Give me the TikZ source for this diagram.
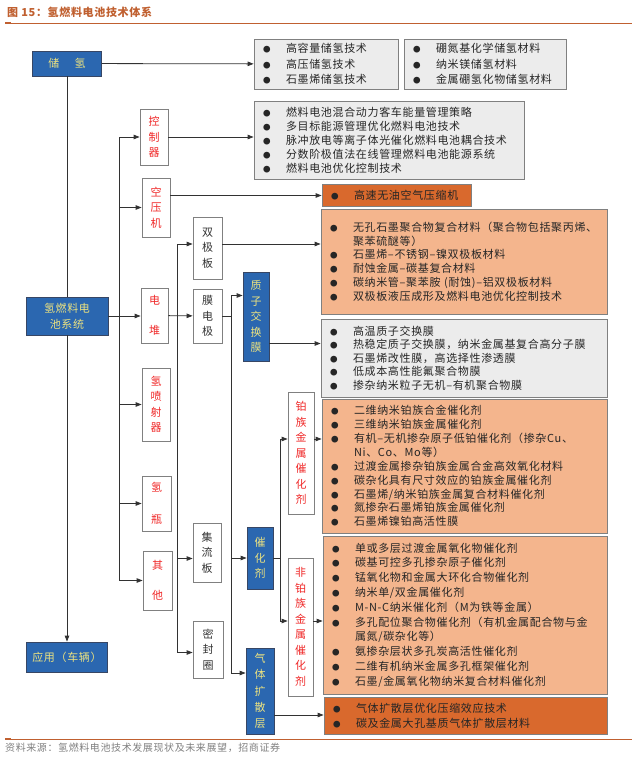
\documentclass[tikz,border=0pt]{standalone}
\usepackage{fontspec}
\setmainfont{Noto Sans CJK SC}[LetterSpace=6]
\usetikzlibrary{arrows.meta,positioning}

\definecolor{hblue}{RGB}{43,103,176}
\definecolor{hblueline}{RGB}{55,70,100}
\definecolor{hyel}{RGB}{236,226,128}
\definecolor{hred}{RGB}{240,40,40}
\definecolor{hdark}{RGB}{217,105,45}
\definecolor{hlight}{RGB}{244,181,141}
\definecolor{hgray}{RGB}{236,236,236}
\definecolor{hline}{RGB}{128,128,128}
\definecolor{hlink}{RGB}{50,50,50}
\definecolor{htitle}{RGB}{192,96,48}

\newcommand\bul{\makebox[23pt][l]{\fontsize{7.5}{7.5}\selectfont ●}}
\newcommand\ind{\hspace*{23pt}}
\newcommand\lst[1]{\fontsize{11}{#1}\selectfont}

\tikzset{
  conn/.style={draw=hlink,line width=0.8pt},
  arr/.style={conn,-{Triangle[length=6pt,width=4.5pt]}},
  wh/.style 2 args={minimum width=#1pt,minimum height=#2pt},
  bluebox/.style={draw=hblueline,fill=hblue,text=hyel,line width=0.8pt,inner sep=0pt,
    align=center,font=\fontsize{11}{15.5}\selectfont},
  redbox/.style={draw=hline,fill=white,text=hred,line width=0.8pt,inner sep=0pt,
    align=center,font=\fontsize{11}{15.5}\selectfont},
  plainbox/.style={redbox,text=black!80},
  graylist/.style={draw=hline,fill=hgray,line width=0.8pt,inner xsep=9pt,inner ysep=0pt,
    align=left,text=black!85},
  darklist/.style={graylist,fill=hdark},
  lightlist/.style={graylist,fill=hlight},
}

\begin{document}
\begin{tikzpicture}[x=1pt,y=-1pt]
\useasboundingbox (0,0) rectangle (637,761);

% title and rules
\node[anchor=west,inner sep=0pt,text=htitle,font=\fontsize{11}{11}\selectfont\bfseries] (title) at (7,12) {图 15：氢燃料电池技术体系};
\draw[htitle,line width=0.8pt] (5,23) -- (632,23);
\draw[htitle,line width=2.4pt] (5,23) -- (11,23);
\draw[htitle,line width=0.8pt] (5,739) -- (632,739);
\draw[htitle,line width=2.4pt] (5,739) -- (11,739);
\node[anchor=west,inner sep=0pt,text=black!50,font=\fontsize{10}{10}\selectfont] (src) at (5,748) {资料来源：氢燃料电池技术发展现状及未来展望，招商证券};

% main column
\node[bluebox,wh={69}{25}] (store) at (67,63.5) {储\hspace{1.4em}氢};
\node[bluebox,wh={82}{38},font=\fontsize{11}{16}\selectfont] (sys) at (67,316) {氢燃料电\\池系统};
\node[bluebox,wh={81}{30}] (app) at (67,657) {应用（车辆）};

% first level
\node[redbox,wh={28}{56}] (ctrl) at (154,137) {控\\制\\器};
\node[redbox,wh={28}{59}] (comp) at (156,207.5) {空\\压\\机};
\node[redbox,wh={27}{55}] (stack) at (154.5,315.5) {电\\[15pt]堆};
\node[redbox,wh={28}{73}] (inj) at (156,404.5) {氢\\喷\\射\\器};
\node[redbox,wh={29}{55}] (tank) at (156.5,503.5) {氢\\[16pt]瓶};
\node[redbox,wh={29}{59}] (other) at (157.5,580.5) {其\\[15pt]他};

% stack parts
\node[plainbox,wh={29}{62}] (bip) at (207.5,248) {双\\极\\板};
\node[plainbox,wh={29}{54}] (mea) at (207.5,316) {膜\\电\\极};
\node[plainbox,wh={28}{59}] (cc) at (207,552.5) {集\\流\\板};
\node[plainbox,wh={30}{57}] (seal) at (208,649.5) {密\\封\\圈};

% electrode parts
\node[bluebox,wh={26}{89}] (pem) at (256,316.5) {质\\子\\交\\换\\膜};
\node[bluebox,wh={26}{62}] (cat) at (260,558) {催\\化\\剂};
\node[bluebox,wh={28}{86},font=\fontsize{11}{16.3}\selectfont] (gdl) at (260,691) {气\\体\\扩\\散\\层};
\node[redbox,wh={26}{122}] (pt) at (301,453) {铂\\族\\金\\属\\催\\化\\剂};
\node[redbox,wh={25}{138}] (npt) at (300.5,627) {非\\铂\\族\\金\\属\\催\\化\\剂};

% lists
\node[graylist,minimum height=50pt,text width=126pt,font=\lst{15.5}] (storea) at (326,64)
  {\bul 高容量储氢技术\\ \bul 高压储氢技术\\ \bul 石墨烯储氢技术};
\node[graylist,minimum height=50pt,text width=144pt,font=\lst{15.5}] (storeb) at (485,64)
  {\bul 硼氮基化学储氢材料\\ \bul 纳米镁储氢材料\\ \bul 金属硼氢化物储氢材料};
\node[graylist,minimum height=78pt,text width=252pt,font=\lst{14}] (ctrllist) at (389,140)
  {\bul 燃料电池混合动力客车能量管理策略\\ \bul 多目标能源管理优化燃料电池技术\\
   \bul 脉冲放电等离子体光催化燃料电池耦合技术\\ \bul 分数阶极值法在线管理燃料电池能源系统\\
   \bul 燃料电池优化控制技术};
\node[darklist,minimum height=22pt,text width=131pt,font=\lst{14}] (complist) at (396.5,195)
  {\bul 高速无油空气压缩机};
\node[lightlist,minimum height=105pt,text width=268pt,font=\lst{13.8}] (biplist) at (464,261.5)
  {\bul 无孔石墨聚合物复合材料（聚合物包括聚丙烯、\\ \ind 聚苯硫醚等）\\
   \bul 石墨烯–不锈钢–镍双极板材料\\ \bul 耐蚀金属–碳基复合材料\\
   \bul 碳纳米管–聚苯胺 (耐蚀)–铝双极板材料\\ \bul 双极板液压成形及燃料电池优化控制技术\\[5pt]};
\node[graylist,minimum height=78pt,text width=268pt,font=\lst{13.5}] (pemlist) at (464,358)
  {\bul 高温质子交换膜\\ \bul 热稳定质子交换膜，纳米金属基复合高分子膜\\
   \bul 石墨烯改性膜，高选择性渗透膜\\ \bul 低成本高性能氟聚合物膜\\
   \bul 掺杂纳米粒子无机–有机聚合物膜};
\node[lightlist,minimum height=134pt,text width=267pt,font=\lst{13.9}] (ptlist) at (464.5,466)
  {\bul 二维纳米铂族合金催化剂\\ \bul 三维纳米铂族金属催化剂\\
   \bul 有机–无机掺杂原子低铂催化剂（掺杂Cu、\\ \ind Ni、Co、Mo等）\\
   \bul 过渡金属掺杂铂族金属合金高效氧化材料\\ \bul 碳杂化具有尺寸效应的铂族金属催化剂\\
   \bul 石墨烯/纳米铂族金属复合材料催化剂\\ \bul 氮掺杂石墨烯铂族金属催化剂\\
   \bul 石墨烯镍铂高活性膜};
\node[lightlist,minimum height=158pt,text width=266pt,font=\lst{14.8}] (nptlist) at (465,615)
  {\bul 单或多层过渡金属氧化物催化剂\\ \bul 碳基可控多孔掺杂原子催化剂\\
   \bul 锰氧化物和金属大环化合物催化剂\\ \bul 纳米单/双金属催化剂\\
   \bul M-N-C纳米催化剂（M为铁等金属）\\ \bul 多孔配位聚合物催化剂（有机金属配合物与金\\
   \ind 属氮/碳杂化等）\\ \bul 氨掺杂层状多孔炭高活性催化剂\\
   \bul 二维有机纳米金属多孔框架催化剂\\ \bul 石墨/金属氧化物纳米复合材料催化剂};
\node[darklist,minimum height=37pt,text width=265pt,font=\lst{15}] (gdllist) at (465.5,715.5)
  {\bul 气体扩散层优化压缩效应技术\\ \bul 碳及金属大孔基质气体扩散层材料};

% trunks
\coordinate (t1) at (119,0);
\coordinate (t2) at (177,0);
\coordinate (t3) at (231,0);
\coordinate (t4) at (280,0);

% connectors
\draw[arr] (store) -- (storea);
\draw[conn] (store) -- (sys);
\draw[arr] (sys) -- (app);
\draw[arr] (sys.east) -- (sys.east -| stack.west);
\foreach \n in {ctrl,comp,inj,tank,other}
  \draw[arr] (sys.east -| t1) |- (\n.west);
\draw[arr] (ctrl.east) -- (ctrl.east -| ctrllist.west);
\draw[arr] ([yshift=12pt]comp.east) -- ([yshift=12pt]comp.east -| complist.west);

\draw[arr] (stack) -- (mea);
\draw[arr] (stack.east -| t2) |- ([yshift=4pt]bip.west);
\draw[arr] (stack.east -| t2) |- ([yshift=-6pt]cc.west);
\draw[arr] (stack.east -| t2) |- ([yshift=-3pt]seal.west);
\draw[arr] ([yshift=4pt]bip.east) -- ([yshift=4pt]bip.east -| biplist.west);

\draw[conn] (mea.east) -- (mea.east -| t3);
\draw[arr] (mea.east -| t3) |- ([yshift=21pt]pem.west);
\draw[arr] (mea.east -| t3) |- (cat.west);
\draw[arr] (mea.east -| t3) |- ([yshift=18pt]gdl.west);
\draw[arr] ([yshift=-27pt]pem.east) -- ([yshift=-27pt]pem.east -| pemlist.west);
\draw[arr] ([yshift=-24pt]gdl.east) -- ([yshift=-24pt]gdl.east -| gdllist.west);

\draw[conn] (cat.east) -- (cat.east -| t4);
\draw[arr] (cat.east -| t4) |- ([yshift=14pt]pt.west);
\draw[arr] (cat.east -| t4) |- ([yshift=6pt]npt.west);
\draw[arr] ([yshift=14pt]pt.east) -- ([yshift=14pt]pt.east -| ptlist.west);
\draw[arr] ([yshift=6pt]npt.east) -- ([yshift=6pt]npt.east -| nptlist.west);
\end{tikzpicture}
\end{document}
